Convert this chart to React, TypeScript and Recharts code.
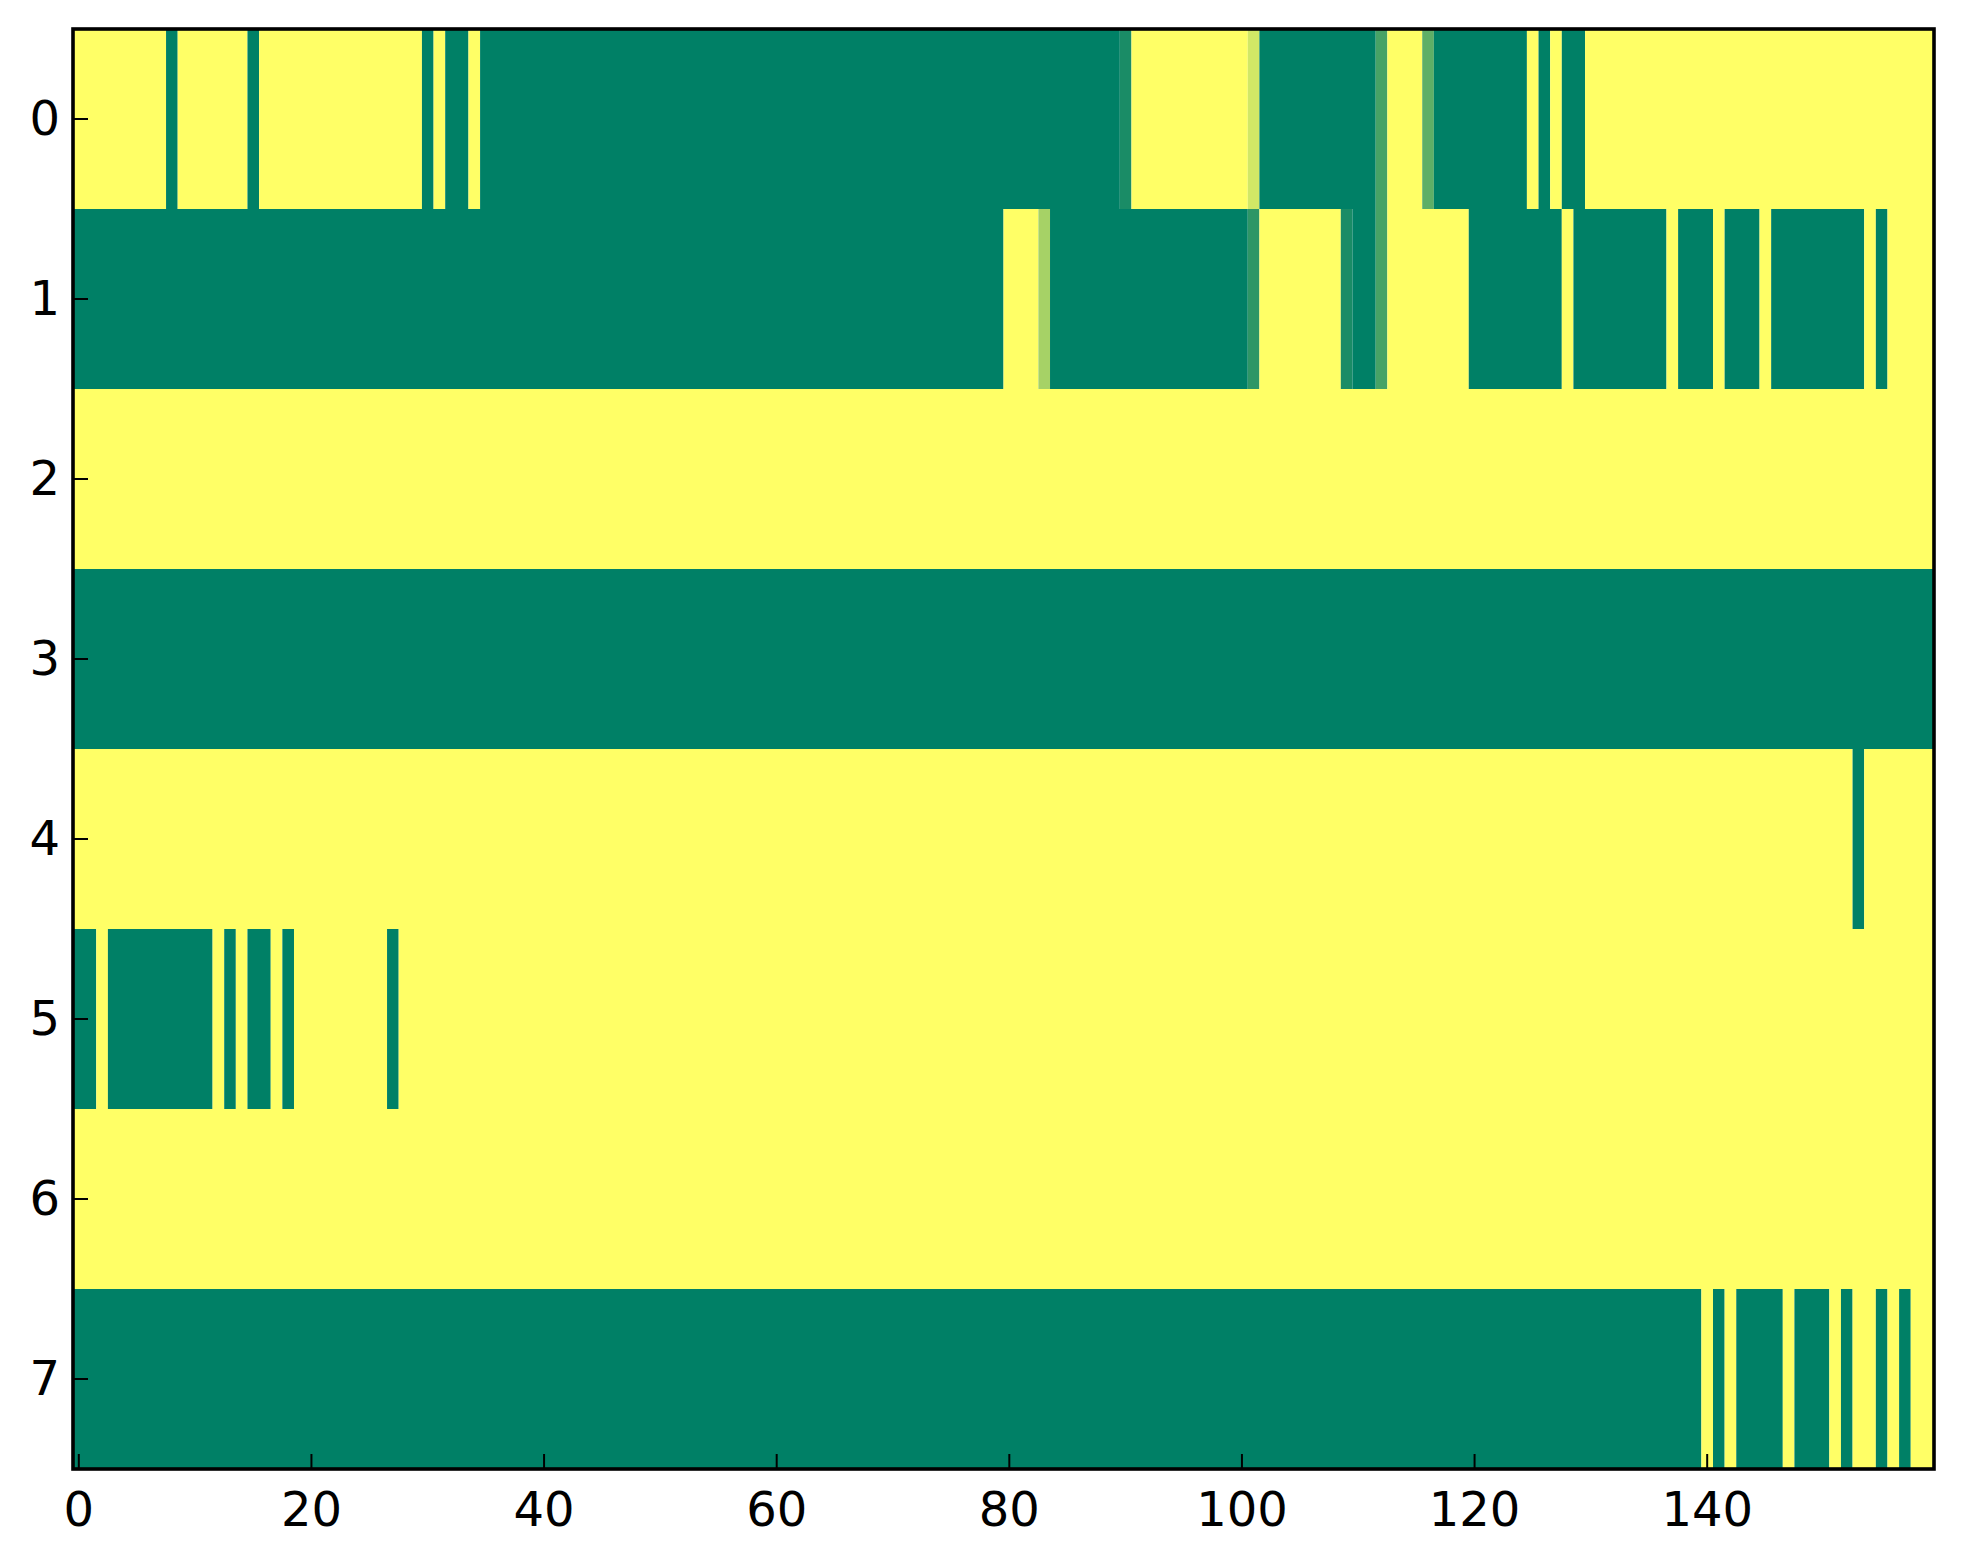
import React from "react";
import { ComposedChart, XAxis, YAxis, ReferenceArea, Scatter } from "recharts";

// Row labels (y categories) and column count
const rowLabels = [0, 1, 2, 3, 4, 5, 6, 7];
const xTicks = [0, 20, 40, 60, 80, 100, 120, 140];

const row0 = [
  1, 1, 1, 1, 1, 1, 1, 1, 0, 1, 1, 1, 1, 1, 1, 0, 1, 1, 1, 1,
  1, 1, 1, 1, 1, 1, 1, 1, 1, 1, 0, 1, 0, 0, 1, 0, 0, 0, 0, 0,
  0, 0, 0, 0, 0, 0, 0, 0, 0, 0, 0, 0, 0, 0, 0, 0, 0, 0, 0, 0,
  0, 0, 0, 0, 0, 0, 0, 0, 0, 0, 0, 0, 0, 0, 0, 0, 0, 0, 0, 0,
  0, 0, 0, 0, 0, 0, 0, 0, 0, 0, 0.1, 1, 1, 1, 1, 1, 1, 1, 1, 1,
  1, 0.82, 0, 0, 0, 0, 0, 0, 0, 0, 0, 0, 0.28, 1, 1, 1, 0.37, 0, 0, 0,
  0, 0, 0, 0, 0, 1, 0, 1, 0, 0, 1, 1, 1, 1, 1, 1, 1, 1, 1, 1,
  1, 1, 1, 1, 1, 1, 1, 1, 1, 1, 1, 1, 1, 1, 1, 1, 1, 1, 1, 1,
];
const row1 = [
  0, 0, 0, 0, 0, 0, 0, 0, 0, 0, 0, 0, 0, 0, 0, 0, 0, 0, 0, 0,
  0, 0, 0, 0, 0, 0, 0, 0, 0, 0, 0, 0, 0, 0, 0, 0, 0, 0, 0, 0,
  0, 0, 0, 0, 0, 0, 0, 0, 0, 0, 0, 0, 0, 0, 0, 0, 0, 0, 0, 0,
  0, 0, 0, 0, 0, 0, 0, 0, 0, 0, 0, 0, 0, 0, 0, 0, 0, 0, 0, 0,
  1, 1, 1, 0.65, 0, 0, 0, 0, 0, 0, 0, 0, 0, 0, 0, 0, 0, 0, 0, 0,
  0, 0.18, 1, 1, 1, 1, 1, 1, 1, 0.1, 0, 0, 0.28, 1, 1, 1, 1, 1, 1, 1,
  0, 0, 0, 0, 0, 0, 0, 0, 1, 0, 0, 0, 0, 0, 0, 0, 0, 1, 0, 0,
  0, 1, 0, 0, 0, 1, 0, 0, 0, 0, 0, 0, 0, 0, 1, 0, 1, 1, 1, 1,
];
const row2 = [
  1, 1, 1, 1, 1, 1, 1, 1, 1, 1, 1, 1, 1, 1, 1, 1, 1, 1, 1, 1,
  1, 1, 1, 1, 1, 1, 1, 1, 1, 1, 1, 1, 1, 1, 1, 1, 1, 1, 1, 1,
  1, 1, 1, 1, 1, 1, 1, 1, 1, 1, 1, 1, 1, 1, 1, 1, 1, 1, 1, 1,
  1, 1, 1, 1, 1, 1, 1, 1, 1, 1, 1, 1, 1, 1, 1, 1, 1, 1, 1, 1,
  1, 1, 1, 1, 1, 1, 1, 1, 1, 1, 1, 1, 1, 1, 1, 1, 1, 1, 1, 1,
  1, 1, 1, 1, 1, 1, 1, 1, 1, 1, 1, 1, 1, 1, 1, 1, 1, 1, 1, 1,
  1, 1, 1, 1, 1, 1, 1, 1, 1, 1, 1, 1, 1, 1, 1, 1, 1, 1, 1, 1,
  1, 1, 1, 1, 1, 1, 1, 1, 1, 1, 1, 1, 1, 1, 1, 1, 1, 1, 1, 1,
];
const row3 = [
  0, 0, 0, 0, 0, 0, 0, 0, 0, 0, 0, 0, 0, 0, 0, 0, 0, 0, 0, 0,
  0, 0, 0, 0, 0, 0, 0, 0, 0, 0, 0, 0, 0, 0, 0, 0, 0, 0, 0, 0,
  0, 0, 0, 0, 0, 0, 0, 0, 0, 0, 0, 0, 0, 0, 0, 0, 0, 0, 0, 0,
  0, 0, 0, 0, 0, 0, 0, 0, 0, 0, 0, 0, 0, 0, 0, 0, 0, 0, 0, 0,
  0, 0, 0, 0, 0, 0, 0, 0, 0, 0, 0, 0, 0, 0, 0, 0, 0, 0, 0, 0,
  0, 0, 0, 0, 0, 0, 0, 0, 0, 0, 0, 0, 0, 0, 0, 0, 0, 0, 0, 0,
  0, 0, 0, 0, 0, 0, 0, 0, 0, 0, 0, 0, 0, 0, 0, 0, 0, 0, 0, 0,
  0, 0, 0, 0, 0, 0, 0, 0, 0, 0, 0, 0, 0, 0, 0, 0, 0, 0, 0, 0,
];
const row4 = [
  1, 1, 1, 1, 1, 1, 1, 1, 1, 1, 1, 1, 1, 1, 1, 1, 1, 1, 1, 1,
  1, 1, 1, 1, 1, 1, 1, 1, 1, 1, 1, 1, 1, 1, 1, 1, 1, 1, 1, 1,
  1, 1, 1, 1, 1, 1, 1, 1, 1, 1, 1, 1, 1, 1, 1, 1, 1, 1, 1, 1,
  1, 1, 1, 1, 1, 1, 1, 1, 1, 1, 1, 1, 1, 1, 1, 1, 1, 1, 1, 1,
  1, 1, 1, 1, 1, 1, 1, 1, 1, 1, 1, 1, 1, 1, 1, 1, 1, 1, 1, 1,
  1, 1, 1, 1, 1, 1, 1, 1, 1, 1, 1, 1, 1, 1, 1, 1, 1, 1, 1, 1,
  1, 1, 1, 1, 1, 1, 1, 1, 1, 1, 1, 1, 1, 1, 1, 1, 1, 1, 1, 1,
  1, 1, 1, 1, 1, 1, 1, 1, 1, 1, 1, 1, 1, 0, 1, 1, 1, 1, 1, 1,
];
const row5 = [
  0, 0, 1, 0, 0, 0, 0, 0, 0, 0, 0, 0, 1, 0, 1, 0, 0, 1, 0, 1,
  1, 1, 1, 1, 1, 1, 1, 0, 1, 1, 1, 1, 1, 1, 1, 1, 1, 1, 1, 1,
  1, 1, 1, 1, 1, 1, 1, 1, 1, 1, 1, 1, 1, 1, 1, 1, 1, 1, 1, 1,
  1, 1, 1, 1, 1, 1, 1, 1, 1, 1, 1, 1, 1, 1, 1, 1, 1, 1, 1, 1,
  1, 1, 1, 1, 1, 1, 1, 1, 1, 1, 1, 1, 1, 1, 1, 1, 1, 1, 1, 1,
  1, 1, 1, 1, 1, 1, 1, 1, 1, 1, 1, 1, 1, 1, 1, 1, 1, 1, 1, 1,
  1, 1, 1, 1, 1, 1, 1, 1, 1, 1, 1, 1, 1, 1, 1, 1, 1, 1, 1, 1,
  1, 1, 1, 1, 1, 1, 1, 1, 1, 1, 1, 1, 1, 1, 1, 1, 1, 1, 1, 1,
];
const row6 = [
  1, 1, 1, 1, 1, 1, 1, 1, 1, 1, 1, 1, 1, 1, 1, 1, 1, 1, 1, 1,
  1, 1, 1, 1, 1, 1, 1, 1, 1, 1, 1, 1, 1, 1, 1, 1, 1, 1, 1, 1,
  1, 1, 1, 1, 1, 1, 1, 1, 1, 1, 1, 1, 1, 1, 1, 1, 1, 1, 1, 1,
  1, 1, 1, 1, 1, 1, 1, 1, 1, 1, 1, 1, 1, 1, 1, 1, 1, 1, 1, 1,
  1, 1, 1, 1, 1, 1, 1, 1, 1, 1, 1, 1, 1, 1, 1, 1, 1, 1, 1, 1,
  1, 1, 1, 1, 1, 1, 1, 1, 1, 1, 1, 1, 1, 1, 1, 1, 1, 1, 1, 1,
  1, 1, 1, 1, 1, 1, 1, 1, 1, 1, 1, 1, 1, 1, 1, 1, 1, 1, 1, 1,
  1, 1, 1, 1, 1, 1, 1, 1, 1, 1, 1, 1, 1, 1, 1, 1, 1, 1, 1, 1,
];
const row7 = [
  0, 0, 0, 0, 0, 0, 0, 0, 0, 0, 0, 0, 0, 0, 0, 0, 0, 0, 0, 0,
  0, 0, 0, 0, 0, 0, 0, 0, 0, 0, 0, 0, 0, 0, 0, 0, 0, 0, 0, 0,
  0, 0, 0, 0, 0, 0, 0, 0, 0, 0, 0, 0, 0, 0, 0, 0, 0, 0, 0, 0,
  0, 0, 0, 0, 0, 0, 0, 0, 0, 0, 0, 0, 0, 0, 0, 0, 0, 0, 0, 0,
  0, 0, 0, 0, 0, 0, 0, 0, 0, 0, 0, 0, 0, 0, 0, 0, 0, 0, 0, 0,
  0, 0, 0, 0, 0, 0, 0, 0, 0, 0, 0, 0, 0, 0, 0, 0, 0, 0, 0, 0,
  0, 0, 0, 0, 0, 0, 0, 0, 0, 0, 0, 0, 0, 0, 0, 0, 0, 0, 0, 0,
  1, 0, 1, 0, 0, 0, 0, 1, 0, 0, 0, 1, 0, 1, 1, 0, 1, 0, 1, 1,
];

const rows = [row0, row1, row2, row3, row4, row5, row6, row7];
const NCOLS = row0.length;

// matplotlib "summer" colormap
const summer = (v: number) => {
  const r = Math.round(255 * v);
  const g = Math.round(127.5 + 127.5 * v);
  return `rgb(${r},${g},102)`;
};

type Run = { r: number; start: number; end: number; v: number };
const runs: Run[] = [];
rows.forEach((row, r) => {
  let start = 0;
  for (let c = 1; c <= row.length; c++) {
    if (c === row.length || row[c] !== row[start]) {
      runs.push({ r, start, end: c - 1, v: row[start] });
      start = c;
    }
  }
});

const points = rows.flatMap((row, r) => row.map((v, c) => ({ x: c, y: r, v })));

const FONT = "DejaVu Sans";
const FS = 48;
const TICK_LEN = 15;
const TICK_W = 2;

const BottomTick = (props: any) => {
  const { x, y, payload } = props;
  return (
    <g>
      <line x1={x} y1={y} x2={x} y2={y - TICK_LEN} stroke="#000" strokeWidth={TICK_W} />
      <text x={x} y={y + 57} textAnchor="middle" fontSize={FS} fontFamily={FONT} fill="#000">
        {payload.value}
      </text>
    </g>
  );
};
const TopTick = (props: any) => {
  const { x, y } = props;
  return <line x1={x} y1={y} x2={x} y2={y + TICK_LEN} stroke="#000" strokeWidth={TICK_W} />;
};
const LeftTick = (props: any) => {
  const { x, y, payload } = props;
  return (
    <g>
      <line x1={x} y1={y} x2={x + TICK_LEN} y2={y} stroke="#000" strokeWidth={TICK_W} />
      <text x={x - 13} y={y + 16} textAnchor="end" fontSize={FS} fontFamily={FONT} fill="#000">
        {payload.value}
      </text>
    </g>
  );
};
const RightTick = (props: any) => {
  const { x, y } = props;
  return <line x1={x} y1={y} x2={x - TICK_LEN} y2={y} stroke="#000" strokeWidth={TICK_W} />;
};

const CellShape = (props: any) => {
  const { x, y, width, height, fill } = props;
  return <rect x={x} y={y} width={width} height={height} fill={fill} stroke="none" />;
};

const FrameShape = (props: any) => {
  const { x, y, width, height } = props;
  return <rect x={x} y={y} width={width} height={height} fill="none" stroke="#000" strokeWidth={3.6} />;
};

export default function App() {
  return (
    <div style={{ position: "absolute", left: 0, top: 0, width: 1963, height: 1564, background: "#fff" }}>
      <ComposedChart width={1963} height={1564} margin={{ top: 29, right: 29, left: 0, bottom: 0 }}>
        <XAxis
          xAxisId="b"
          type="number"
          dataKey="x"
          orientation="bottom"
          domain={[-0.5, NCOLS - 0.5]}
          ticks={xTicks}
          allowDataOverflow
          height={95}
          axisLine={false}
          tickLine={false}
          tickSize={0}
          tickMargin={0}
          tick={<BottomTick />}
          interval={0}
        />
        <XAxis
          xAxisId="t"
          type="number"
          dataKey="x"
          orientation="top"
          domain={[-0.5, NCOLS - 0.5]}
          ticks={xTicks}
          allowDataOverflow
          height={0}
          axisLine={false}
          tickLine={false}
          tickSize={0}
          tickMargin={0}
          tick={<TopTick />}
          interval={0}
        />
        <YAxis
          yAxisId="l"
          type="number"
          dataKey="y"
          orientation="left"
          domain={[-0.5, rowLabels.length - 0.5]}
          ticks={rowLabels}
          reversed
          allowDataOverflow
          width={73}
          axisLine={false}
          tickLine={false}
          tickSize={0}
          tickMargin={0}
          tick={<LeftTick />}
          interval={0}
        />
        <YAxis
          yAxisId="r"
          type="number"
          dataKey="y"
          orientation="right"
          domain={[-0.5, rowLabels.length - 0.5]}
          ticks={rowLabels}
          reversed
          allowDataOverflow
          width={0}
          axisLine={false}
          tickLine={false}
          tickSize={0}
          tickMargin={0}
          tick={<RightTick />}
          interval={0}
        />
        {runs.map((run, i) => (
          <ReferenceArea
            key={i}
            xAxisId="b"
            yAxisId="l"
            x1={run.start - 0.5}
            x2={run.end + 0.5}
            y1={run.r - 0.5}
            y2={run.r + 0.5}
            fill={summer(run.v)}
            fillOpacity={1}
            stroke="none"
            ifOverflow="visible"
            shape={<CellShape />}
          />
        ))}
        <Scatter
          xAxisId="b"
          yAxisId="l"
          data={points}
          dataKey="y"
          isAnimationActive={false}
          shape={() => <g />}
        />
        <ReferenceArea
          xAxisId="b"
          yAxisId="l"
          x1={-0.5}
          x2={NCOLS - 0.5}
          y1={-0.5}
          y2={rowLabels.length - 0.5}
          ifOverflow="visible"
          shape={<FrameShape />}
        />
      </ComposedChart>
    </div>
  );
}
